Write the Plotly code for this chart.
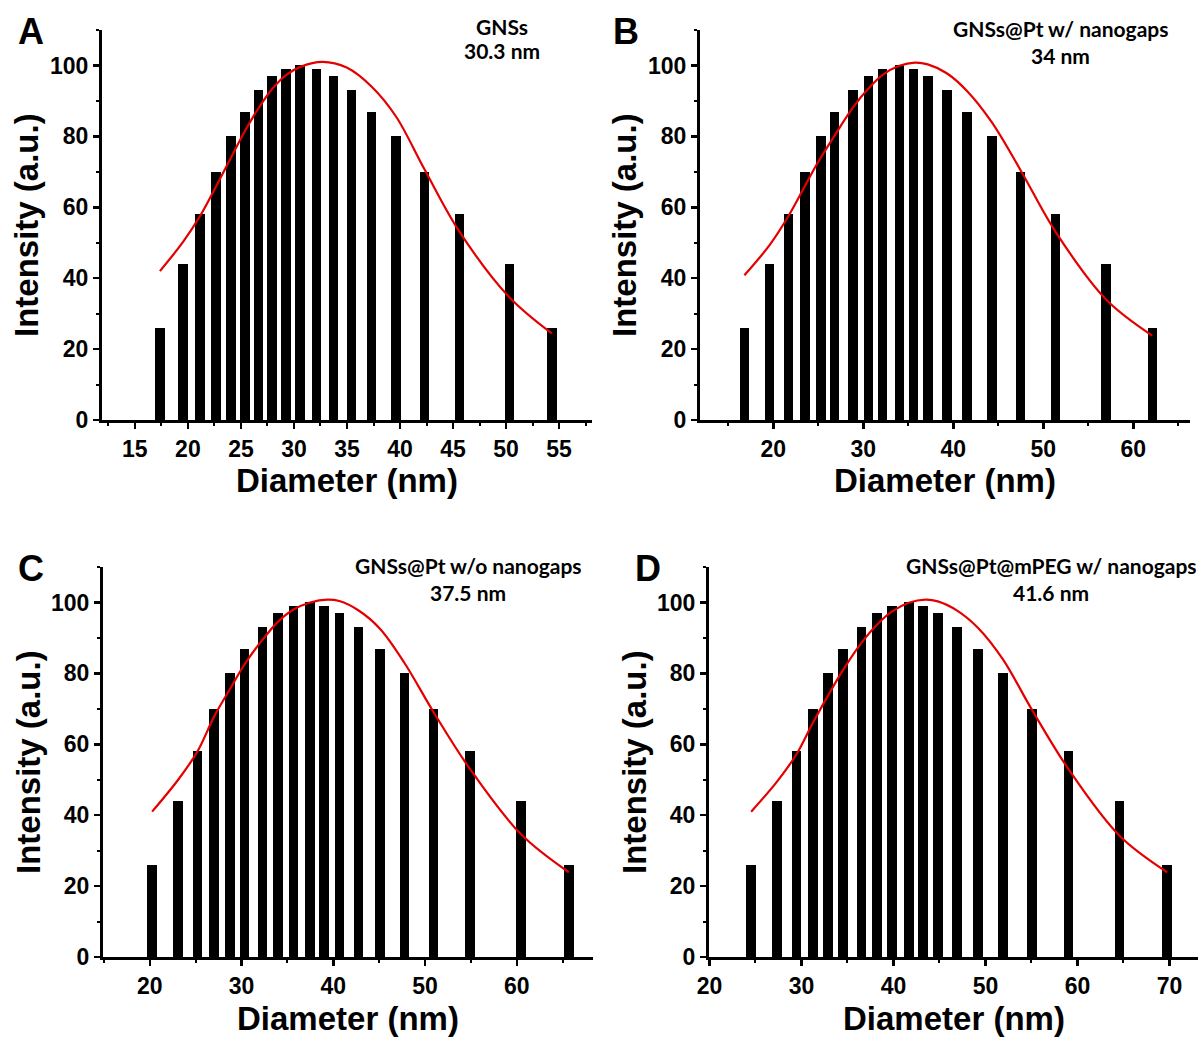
import plotly.graph_objects as go

# ---------------- data ----------------
heights = [26, 44, 58, 70, 80, 87, 93, 97, 99, 100, 99, 97, 93, 87, 80, 70, 58, 44, 26]

a_bar_x = [17.36, 19.56, 21.16, 22.64, 24.06, 25.38, 26.67, 27.92, 29.25, 30.59,
           32.14, 33.71, 35.44, 37.33, 39.62, 42.29, 45.63, 50.31, 54.31]
a_fit_x = [17.36, 19.56, 21.16, 22.64, 24.06, 25.38, 26.67, 27.92, 29.25, 30.6,
           32.7, 34.97, 37.33, 39.62, 42.29, 45.63, 50.31, 54.31]
a_fit_y = [42.0, 50.3, 57.6, 65.8, 74.0, 81.5, 88.0, 93.3, 97.3, 99.6,
           101.0, 99.4, 94.0, 85.6, 70.8, 53.0, 34.6, 24.4]

b_bar_x = [16.78, 19.6, 21.71, 23.52, 25.27, 26.82, 28.86, 30.56, 32.11, 34.0,
           35.56, 37.16, 39.27, 41.52, 44.27, 47.44, 51.38, 56.97, 62.11]
b_fit_x = [16.78, 19.6, 21.7, 24.8, 26.82, 28.86, 30.56, 32.11, 34.0, 35.74,
           37.16, 39.27, 41.52, 44.27, 47.44, 51.38, 56.97, 62.11]
b_fit_y = [40.8, 49.4, 57.6, 72.0, 80.3, 88.2, 93.5, 97.3, 99.9, 100.8,
           100.3, 97.8, 92.8, 84.0, 70.6, 53.0, 34.0, 23.8]

c_bar_x = [20.25, 23.09, 25.2, 27.01, 28.72, 30.32, 32.29, 33.99, 35.67, 37.48,
           39.01, 40.65, 42.72, 45.08, 47.74, 50.94, 54.9, 60.46, 65.66]
c_fit_x = [20.25, 23.09, 25.2, 27.01, 28.72, 30.32, 32.29, 33.99, 35.67, 37.48,
           39.37, 40.65, 42.72, 45.08, 47.74, 50.94, 54.9, 60.46, 65.66]
c_fit_y = [41.0, 50.0, 58.0, 67.8, 75.5, 82.5, 89.5, 94.6, 98.0, 100.0,
           100.8, 100.4, 97.8, 92.6, 83.0, 69.0, 53.0, 34.6, 23.9]

d_bar_x = [24.53, 27.32, 29.46, 31.23, 32.9, 34.53, 36.52, 38.23, 39.82, 41.67,
           43.23, 44.82, 46.92, 49.2, 51.88, 55.08, 59.02, 64.57, 69.75]
d_fit_x = [24.53, 27.32, 29.46, 31.23, 32.9, 34.53, 36.52, 38.23, 39.82, 41.67,
           43.48, 44.82, 46.92, 49.2, 51.88, 55.08, 59.02, 64.57, 69.75]
d_fit_y = [41.0, 49.4, 57.2, 66.0, 73.8, 81.0, 88.6, 93.8, 97.4, 99.9,
           100.8, 100.3, 97.7, 92.8, 84.0, 69.6, 53.0, 34.2, 23.9]

panel_letters = ["A", "B", "C", "D"]
sample_names = ["GNSs", "GNSs@Pt w/ nanogaps", "GNSs@Pt w/o nanogaps", "GNSs@Pt@mPEG w/ nanogaps"]
sizes = ["30.3 nm", "34 nm", "37.5 nm", "41.6 nm"]
x_title = "Diameter (nm)"
y_title = "Intensity (a.u.)"

# ---------------- layout constants ----------------
W, H = 1201, 1039
# pixel boxes of each plot area: (left, right, top, bottom)
boxes = [(102, 592, 30, 420), (700, 1190, 30, 420), (103, 593, 567, 957), (709, 1198, 567, 957)]
x_ranges = [[11.9, 58.1], [11.85, 66.3], [14.9, 68.3], [19.95, 73.1]]
x_dticks = [5, 10, 10, 10]
bar_px = 9.5
letter_pos = [(31, 32), (626, 31), (31, 568), (648, 568)]
label_pos = [(502, 26, 50), (1060, 28, 55), (468, 565, 592), (1051, 565, 592)]

panels = [(a_bar_x, a_fit_x, a_fit_y), (b_bar_x, b_fit_x, b_fit_y),
          (c_bar_x, c_fit_x, c_fit_y), (d_bar_x, d_fit_x, d_fit_y)]

fig = go.Figure()
annotations = []
tick_font = dict(family="Liberation Sans, Arial", size=23, color="black", weight="bold")
title_font = dict(family="Liberation Sans, Arial", size=33, color="black", weight="bold")
lab_font = dict(family="Lato, Open Sans", size=21, color="black", weight="bold")

for i, (bx, fx, fy) in enumerate(panels):
    n = "" if i == 0 else str(i + 1)
    l, r, t, b = boxes[i]
    xr = x_ranges[i]
    px_per_unit = (r - l) / (xr[1] - xr[0])
    fig.add_trace(go.Bar(x=bx, y=heights, width=[bar_px / px_per_unit] * len(bx),
                         marker=dict(color="black", line=dict(width=0)),
                         xaxis="x" + n, yaxis="y" + n, showlegend=False))
    fig.add_trace(go.Scatter(x=fx, y=fy, mode="lines",
                             line=dict(color="rgb(228,0,0)", width=2.2, shape="spline", smoothing=1.0),
                             xaxis="x" + n, yaxis="y" + n, showlegend=False))
    xa = dict(domain=[l / W, r / W], range=xr, anchor="y" + n,
              showline=True, linewidth=3, linecolor="black", mirror=False,
              ticks="outside", ticklen=6, tickwidth=2.5, tickcolor="black",
              dtick=x_dticks[i], tick0=0, showgrid=False, zeroline=False,
              tickfont=tick_font, automargin=False,
              minor=dict(dtick=x_dticks[i] / 2, ticks="outside", ticklen=3, tickwidth=2, tickcolor="black"))
    ya = dict(domain=[1 - b / H, 1 - t / H], range=[0, 110], anchor="x" + n,
              showline=True, linewidth=3, linecolor="black", mirror=False,
              ticks="outside", ticklen=6, tickwidth=2.5, tickcolor="black",
              dtick=20, tick0=0, showgrid=False, zeroline=False,
              tickfont=tick_font, automargin=False,
              minor=dict(dtick=10, ticks="outside", ticklen=3, tickwidth=2, tickcolor="black"))
    fig.layout["xaxis" + n] = xa
    fig.layout["yaxis" + n] = ya

    # axis titles
    annotations.append(dict(text=x_title, x=(l + r) / 2 / W, y=1 - (b + 61) / H, xref="paper", yref="paper",
                            showarrow=False, font=title_font, xanchor="center", yanchor="middle"))
    annotations.append(dict(text=y_title, x=(l - 75) / W, y=1 - (t + b) / 2 / H, xref="paper", yref="paper",
                            showarrow=False, font=title_font, textangle=-90, xanchor="center", yanchor="middle"))
    # panel letter
    lx, ly = letter_pos[i]
    annotations.append(dict(text=panel_letters[i], x=lx / W, y=1 - ly / H, xref="paper", yref="paper",
                            showarrow=False, font=dict(family="Liberation Sans, Arial", size=36, color="black", weight="bold"),
                            xanchor="center", yanchor="middle"))
    # sample labels
    cx, y1, y2 = label_pos[i]
    annotations.append(dict(text=sample_names[i], x=cx / W, y=1 - y1 / H, xref="paper", yref="paper",
                            showarrow=False, font=lab_font, xanchor="center", yanchor="middle"))
    annotations.append(dict(text=sizes[i], x=cx / W, y=1 - y2 / H, xref="paper", yref="paper",
                            showarrow=False, font=lab_font, xanchor="center", yanchor="middle"))

fig.update_layout(width=W, height=H, margin=dict(l=0, r=0, t=0, b=0, autoexpand=False),
                  paper_bgcolor="white", plot_bgcolor="white",
                  annotations=annotations, bargap=0, hovermode=False)
fig.write_html("out.html", config={"displayModeBar": False, "staticPlot": True},
               post_script="document.body.style.margin='0';document.body.style.padding='0';"
                           "document.documentElement.style.overflow='hidden';")
